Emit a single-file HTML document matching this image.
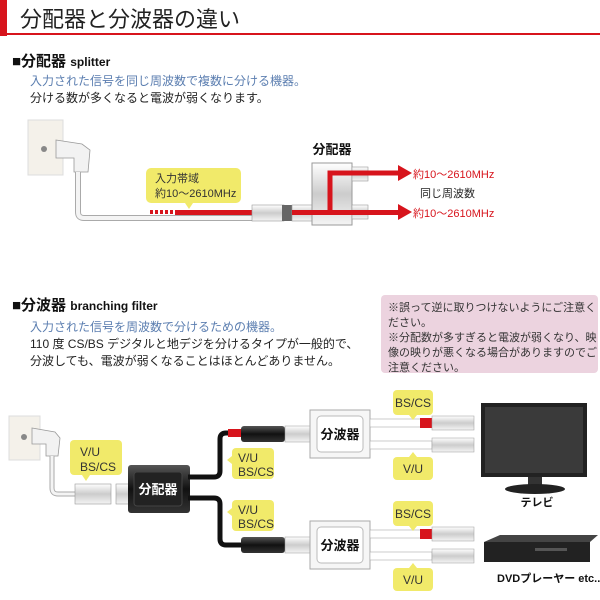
<!DOCTYPE html>
<html><head><meta charset="utf-8"><style>
body{margin:0;width:600px;height:600px;background:#fff;overflow:hidden}
svg{display:block}
text{font-family:"Liberation Sans","Noto Sans CJK JP",sans-serif}
</style></head><body>
<svg width="600" height="600" viewBox="0 0 600 600" xmlns="http://www.w3.org/2000/svg">
<defs>
<linearGradient id="gw" x1="0" y1="0" x2="0" y2="1"><stop offset="0" stop-color="#fff"/><stop offset="0.5" stop-color="#ccc"/><stop offset="1" stop-color="#f4f4f4"/></linearGradient>
<linearGradient id="gb" x1="0" y1="0" x2="0" y2="1"><stop offset="0" stop-color="#555"/><stop offset="0.5" stop-color="#111"/><stop offset="1" stop-color="#333"/></linearGradient>
</defs>
<!-- header -->
<rect x="0" y="0" width="7" height="36" fill="#d7141c"/>
<rect x="0" y="33" width="600" height="2" fill="#d7141c"/>
<text x="20" y="27" font-size="22" fill="#222">分配器と分波器の違い</text>

<!-- splitter section -->
<text x="12" y="66" font-size="15" font-weight="bold" fill="#111">■分配器 <tspan font-size="12">splitter</tspan></text>
<text x="30" y="85" font-size="12" fill="#5b7eb0">入力された信号を同じ周波数で複数に分ける機器。</text>
<text x="30" y="102" font-size="12" fill="#222">分ける数が多くなると電波が弱くなります。</text>

<rect x="28" y="120" width="35" height="55" fill="#f4f1ea" stroke="#ddd"/>
<circle cx="44" cy="149" r="3" fill="#888"/>
<path d="M56 140 L82 144 L90 150 L88 172 L74 172 L74 158 L56 158Z" fill="#f2f2f2" stroke="#999" stroke-width="0.8"/>
<path d="M78 172 L78 212 Q78 218 84 218 L252 218" fill="none" stroke="#aaa" stroke-width="6"/>
<path d="M78 172 L78 212 Q78 218 84 218 L252 218" fill="none" stroke="#f4f4f4" stroke-width="4"/>
<rect x="150" y="210" width="24" height="4" fill="#d7141c"/>
<line x1="150" y1="212" x2="174" y2="212" stroke="#fff" stroke-width="5" stroke-dasharray="0 3 2 0"/>
<rect x="175" y="210" width="80" height="5" fill="#d7141c"/>
<rect x="252" y="205" width="32" height="16" fill="url(#gw)" stroke="#999" stroke-width="0.6"/>
<rect x="282" y="205" width="10" height="16" fill="#666"/>
<rect x="292" y="205" width="20" height="16" fill="url(#gw)" stroke="#999" stroke-width="0.6"/>
<rect x="312" y="163" width="40" height="62" fill="url(#gw)" stroke="#999"/>
<rect x="352" y="167" width="16" height="14" fill="url(#gw)" stroke="#999" stroke-width="0.6"/>
<rect x="352" y="205" width="16" height="14" fill="url(#gw)" stroke="#999" stroke-width="0.6"/>
<text x="332" y="154" font-size="13" font-weight="bold" text-anchor="middle" fill="#111">分配器</text>
<path d="M330 212 L330 173 L400 173" fill="none" stroke="#d7141c" stroke-width="5"/>
<rect x="292" y="210" width="108" height="5" fill="#d7141c"/>
<polygon points="398,165 412,173 398,181" fill="#d7141c"/>
<polygon points="398,204 412,212 398,220" fill="#d7141c"/>
<text x="413" y="178" font-size="11" fill="#d7141c">約10～2610MHz</text>
<text x="413" y="217" font-size="11" fill="#d7141c">約10～2610MHz</text>
<text x="420" y="197" font-size="11" fill="#222">同じ周波数</text>
<rect x="146" y="168" width="95" height="35" rx="5" fill="#f1ea6a"/>
<polygon points="185,203 193,203 189,209" fill="#f1ea6a"/>
<text x="155" y="182" font-size="11" fill="#333">入力帯域</text>
<text x="155" y="197" font-size="11" fill="#333">約10～2610MHz</text>

<!-- branching filter section -->
<text x="12" y="310" font-size="15" font-weight="bold" fill="#111">■分波器 <tspan font-size="12">branching filter</tspan></text>
<text x="30" y="331" font-size="12" fill="#5b7eb0">入力された信号を周波数で分けるための機器。</text>
<text x="30" y="348" font-size="12" fill="#222">110 度 CS/BS デジタルと地デジを分けるタイプが一般的で、</text>
<text x="30" y="365" font-size="12" fill="#222">分波しても、電波が弱くなることはほとんどありません。</text>
<rect x="381" y="295" width="217" height="78" rx="4" fill="#ecd3df"/>
<text x="388" y="311" font-size="11" fill="#333">※誤って逆に取りつけないようにご注意く</text>
<text x="388" y="326" font-size="11" fill="#333">ださい。</text>
<text x="388" y="341" font-size="11" fill="#333">※分配数が多すぎると電波が弱くなり、映</text>
<text x="388" y="356" font-size="11" fill="#333">像の映りが悪くなる場合がありますのでご</text>
<text x="388" y="371" font-size="11" fill="#333">注意ください。</text>

<rect x="9" y="416" width="31" height="44" fill="#f4f1ea" stroke="#ddd"/>
<circle cx="24" cy="437" r="3" fill="#888"/>
<path d="M32 428 L55 432 L60 438 L58 456 L46 456 L46 444 L32 444Z" fill="#f2f2f2" stroke="#999" stroke-width="0.8"/>
<path d="M52 456 L52 488 Q52 494 58 494 L78 494" fill="none" stroke="#aaa" stroke-width="5"/>
<path d="M52 456 L52 488 Q52 494 58 494 L78 494" fill="none" stroke="#f4f4f4" stroke-width="3"/>
<rect x="75" y="484" width="36" height="20" fill="url(#gw)" stroke="#999" stroke-width="0.6"/>
<rect x="116" y="484" width="14" height="20" fill="url(#gw)" stroke="#999" stroke-width="0.6"/>
<rect x="70" y="440" width="52" height="35" rx="4" fill="#f1ea6a"/>
<polygon points="82,475 90,475 86,481" fill="#f1ea6a"/>
<text x="80" y="456" font-size="12" fill="#333">V/U</text>
<text x="80" y="471" font-size="12" fill="#333">BS/CS</text>

<rect x="128" y="465" width="62" height="48" rx="3" fill="url(#gb)"/>
<rect x="134" y="472" width="48" height="34" rx="3" fill="#222" stroke="#444"/>
<text x="158" y="494" font-size="13" font-weight="bold" fill="#fff" text-anchor="middle">分配器</text>
<path d="M188 477 L214 477 Q220 477 220 471 L220 439 Q220 433 226 433 L240 433" fill="none" stroke="#111" stroke-width="5"/>
<path d="M188 498 L214 498 Q220 498 220 504 L220 539 Q220 545 226 545 L244 545" fill="none" stroke="#111" stroke-width="5"/>
<rect x="228" y="429" width="13" height="8" fill="#d7141c"/>
<rect x="241" y="426" width="44" height="16" rx="3" fill="url(#gb)"/>
<rect x="241" y="537" width="44" height="16" rx="3" fill="url(#gb)"/>
<rect x="285" y="426" width="25" height="16" fill="url(#gw)" stroke="#999" stroke-width="0.5"/>
<rect x="285" y="537" width="25" height="16" fill="url(#gw)" stroke="#999" stroke-width="0.5"/>
<rect x="232" y="448" width="42" height="31" rx="4" fill="#f1ea6a"/>
<polygon points="232,456 232,464 227,460" fill="#f1ea6a"/>
<text x="238" y="462" font-size="12" fill="#333">V/U</text>
<text x="238" y="476" font-size="12" fill="#333">BS/CS</text>
<rect x="232" y="500" width="42" height="31" rx="4" fill="#f1ea6a"/>
<polygon points="232,508 232,516 227,512" fill="#f1ea6a"/>
<text x="238" y="514" font-size="12" fill="#333">V/U</text>
<text x="238" y="528" font-size="12" fill="#333">BS/CS</text>

<g id="bf">
<rect x="310" y="410" width="60" height="48" fill="#f6f6f6" stroke="#aaa"/>
<rect x="317" y="416" width="46" height="36" rx="4" fill="#fff" stroke="#bbb"/>
<text x="340" y="439" font-size="13" font-weight="bold" fill="#111" text-anchor="middle">分波器</text>
<rect x="370" y="419" width="62" height="8" fill="#fff" stroke="#aaa" stroke-width="0.6"/>
<rect x="370" y="441" width="62" height="8" fill="#fff" stroke="#aaa" stroke-width="0.6"/>
<rect x="420" y="418" width="12" height="10" fill="#d7141c"/>
<rect x="432" y="416" width="42" height="14" fill="url(#gw)" stroke="#999" stroke-width="0.5"/>
<rect x="432" y="438" width="42" height="14" fill="url(#gw)" stroke="#999" stroke-width="0.5"/>
<rect x="393" y="390" width="40" height="25" rx="4" fill="#f1ea6a"/>
<polygon points="409,415 417,415 413,420" fill="#f1ea6a"/>
<text x="413" y="407" font-size="12" fill="#333" text-anchor="middle">BS/CS</text>
<rect x="393" y="457" width="40" height="23" rx="4" fill="#f1ea6a"/>
<polygon points="409,457 417,457 413,452" fill="#f1ea6a"/>
<text x="413" y="473" font-size="12" fill="#333" text-anchor="middle">V/U</text>
</g>
<use href="#bf" transform="translate(0,111)"/>

<!-- TV -->
<rect x="481" y="403" width="106" height="74" fill="#222"/>
<rect x="485" y="407" width="98" height="66" fill="#3a3a3a"/>
<rect x="528" y="477" width="14" height="10" fill="#333"/>
<ellipse cx="535" cy="489" rx="30" ry="5" fill="#222"/>
<text x="537" y="506" font-size="11" font-weight="bold" fill="#111" text-anchor="middle">テレビ</text>
<!-- DVD -->
<polygon points="484,542 500,535 598,535 590,542" fill="#444"/>
<rect x="484" y="542" width="106" height="20" fill="#222"/>
<rect x="535" y="548" width="32" height="3" fill="#555"/>
<text x="497" y="582" font-size="11" font-weight="bold" fill="#111">DVDプレーヤー etc...</text>
</svg>
</body></html>
